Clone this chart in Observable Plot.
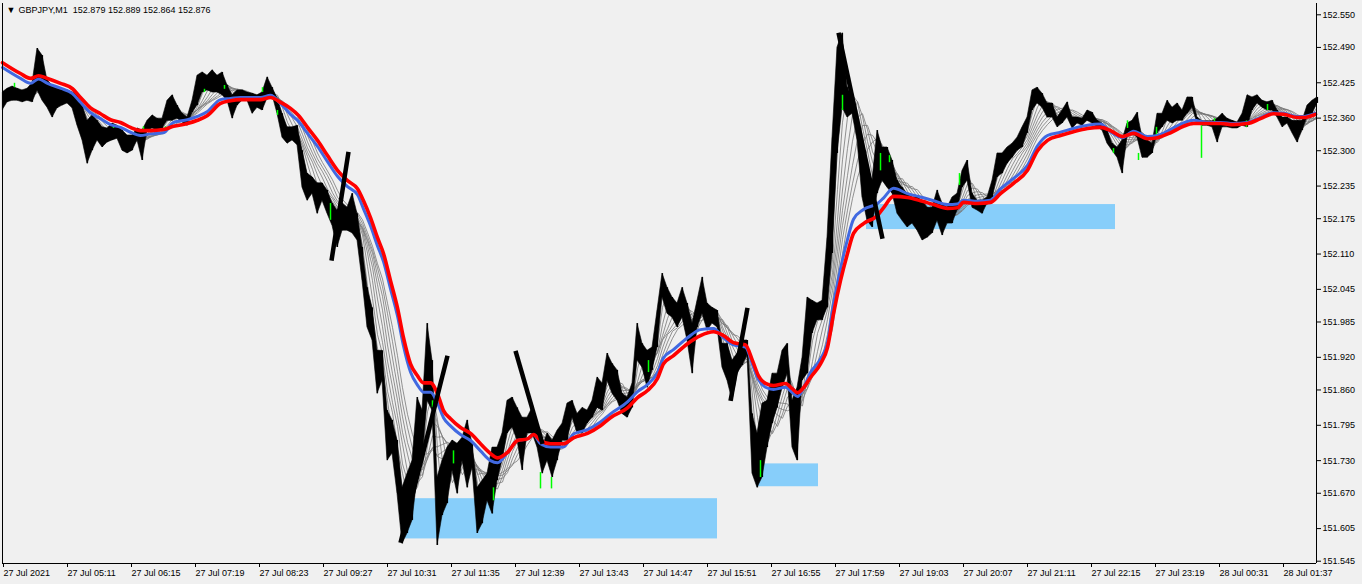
<!DOCTYPE html>
<html><head><meta charset="utf-8">
<script src="https://cdn.jsdelivr.net/npm/d3@7"></script>
<script src="https://cdn.jsdelivr.net/npm/@observablehq/plot@0.6"></script>
<style>
html,body{margin:0;padding:0;background:#f0f0f0;overflow:hidden;}
#chart{width:1362px;height:584px;}
</style></head><body><div id="chart"></div>
<script>
// ---- axis ticks ----
const xTickBars = [1,65,129,193,257,321,385,449,513,577,641,705,769,833,897,961,1025,1089,1153,1217,1281];
const xTickLabels = ["27 Jul 2021","27 Jul 05:11","27 Jul 06:15","27 Jul 07:19","27 Jul 08:23","27 Jul 09:27","27 Jul 10:31","27 Jul 11:35","27 Jul 12:39","27 Jul 13:43","27 Jul 14:47","27 Jul 15:51","27 Jul 16:55","27 Jul 17:59","27 Jul 19:03","27 Jul 20:07","27 Jul 21:11","27 Jul 22:15","27 Jul 23:19","28 Jul 00:31","28 Jul 01:37"];
const yTicks = [152.550,152.490,152.425,152.360,152.300,152.235,152.175,152.110,152.045,151.985,151.920,151.860,151.795,151.730,151.670,151.605,151.545];
const titleText = "GBPJPY,M1\u00a0 152.879 152.889 152.864 152.876";

// ---- price (sampled every 5 one-minute bars) ----
const priceHigh = [
152.407,152.414,152.418,152.414,152.411,152.414,152.424,152.488,152.475,152.429,
152.420,152.414,152.411,152.411,152.407,152.402,152.383,152.355,152.365,152.355,
152.343,152.341,152.350,152.346,152.337,152.328,152.328,152.341,152.337,152.355,
152.365,152.359,152.359,152.392,152.402,152.383,152.368,152.361,152.392,152.438,
152.444,152.438,152.448,152.438,152.444,152.420,152.402,152.411,152.411,152.407,
152.405,152.402,152.407,152.435,152.416,152.396,152.368,152.343,152.343,152.346,
152.300,152.258,152.251,152.240,152.240,152.227,152.203,152.190,152.203,152.195,
152.221,152.184,152.122,152.048,152.011,151.932,151.932,151.822,151.804,151.767,
151.680,151.706,151.730,151.846,151.822,151.982,151.914,151.699,151.730,151.754,
151.767,151.761,151.772,151.804,151.761,151.680,151.693,151.706,151.754,151.754,
151.780,151.840,151.846,151.827,151.809,151.809,151.827,151.798,151.754,151.780,
151.767,151.785,151.798,151.835,151.840,151.816,151.827,151.822,151.840,151.883,
151.872,151.927,151.908,151.896,151.853,151.846,151.872,151.982,151.945,151.932,
151.938,152.006,152.074,152.048,152.030,152.019,152.048,152.019,151.982,152.024,
152.067,152.019,152.011,152.006,151.945,151.945,151.914,151.927,151.951,151.951,
151.816,151.780,151.835,151.840,151.890,151.890,151.932,151.945,151.840,151.864,
151.919,152.030,152.024,152.019,152.024,152.140,152.324,152.490,152.516,152.416,
152.398,152.361,152.300,152.263,152.245,152.337,152.306,152.306,152.282,152.245,
152.232,152.221,152.214,152.214,152.208,152.195,152.195,152.227,152.203,152.195,
152.214,152.221,152.263,152.282,152.221,152.208,152.208,152.214,152.245,152.295,
152.295,152.306,152.313,152.324,152.343,152.361,152.411,152.416,152.405,152.387,
152.387,152.361,152.374,152.389,152.361,152.361,152.359,152.374,152.370,152.355,
152.350,152.337,152.313,152.306,152.319,152.350,152.355,152.370,152.324,152.319,
152.313,152.368,152.368,152.392,152.379,152.387,152.374,152.398,152.398,152.361,
152.354,152.354,152.354,152.359,152.368,152.359,152.355,152.352,152.368,152.402,
152.398,152.402,152.392,152.389,152.392,152.374,152.361,152.361,152.355,152.355,
152.355,152.383,152.392,152.398];
const priceLow = [
152.374,152.389,152.392,152.392,152.389,152.392,152.389,152.411,152.392,152.379,
152.361,152.378,152.383,152.387,152.378,152.346,152.319,152.276,152.300,152.319,
152.306,152.315,152.319,152.322,152.300,152.295,152.300,152.319,152.282,152.337,
152.341,152.337,152.341,152.355,152.355,152.359,152.352,152.346,152.370,152.383,
152.407,152.411,152.407,152.407,152.402,152.392,152.359,152.383,152.392,152.392,
152.368,152.379,152.374,152.396,152.402,152.368,152.324,152.313,152.319,152.310,
152.232,152.208,152.221,152.184,152.208,152.184,152.162,152.122,152.153,152.153,
152.148,152.135,152.061,151.975,151.951,151.853,151.877,151.730,151.743,151.669,
151.577,151.596,151.620,151.699,151.730,151.840,151.822,151.574,151.629,151.651,
151.712,151.669,151.730,151.680,151.717,151.596,151.614,151.656,151.632,151.693,
151.730,151.780,151.791,151.767,151.712,151.780,151.780,151.754,151.706,151.730,
151.699,151.730,151.767,151.767,151.809,151.780,151.780,151.798,151.809,151.827,
151.822,151.877,151.853,151.840,151.816,151.809,151.827,151.914,151.901,151.864,
151.896,151.938,152.030,152.000,151.993,151.975,151.993,151.951,151.890,151.975,
152.000,151.969,151.982,151.975,151.901,151.877,151.840,151.890,151.905,151.923,
151.706,151.680,151.699,151.754,151.798,151.827,151.864,151.890,151.754,151.730,
151.877,151.890,151.964,151.988,151.988,152.011,152.111,152.295,152.379,152.361,
152.368,152.319,152.214,152.171,152.159,152.221,152.245,152.232,152.221,152.184,
152.171,152.159,152.166,152.153,152.135,152.140,152.148,152.171,152.144,152.166,
152.166,152.190,152.232,152.245,152.195,152.190,152.184,152.203,152.214,152.251,
152.258,152.276,152.287,152.300,152.306,152.332,152.374,152.387,152.379,152.361,
152.361,152.343,152.350,152.361,152.341,152.350,152.346,152.355,152.350,152.343,
152.337,152.313,152.300,152.287,152.258,152.324,152.332,152.324,152.287,152.287,
152.295,152.332,152.343,152.355,152.350,152.355,152.355,152.368,152.379,152.350,
152.346,152.346,152.343,152.315,152.343,152.343,152.341,152.341,152.346,152.343,
152.374,152.387,152.379,152.374,152.374,152.361,152.343,152.350,152.332,152.315,
152.337,152.361,152.368,152.387];
const priceStep = 5; // minutes between samples

// ---- moving averages (red slow, blue faster) ----
const maTime = [0,18,28,36,45,58,70,78,88,98,108,118,128,138,148,161,171,185,195,205,218,228,238,258,268,278,288,296,305,315,325,335,345,355,361,368,375,381,388,395,401,408,415,421,428,435,441,448,458,468,478,488,495,505,515,525,531,538,548,561,571,585,598,608,625,635,645,655,661,671,685,698,711,721,731,743,750,756,763,771,783,790,795,801,808,818,825,831,838,845,851,861,875,881,891,905,918,931,945,955,961,975,988,998,1011,1025,1035,1045,1058,1071,1085,1098,1108,1120,1131,1145,1155,1168,1181,1191,1205,1218,1231,1245,1258,1271,1281,1295,1301,1313];
const redMA = [152.462,152.442,152.433,152.438,152.433,152.424,152.414,152.398,152.379,152.368,152.357,152.352,152.343,152.337,152.337,152.339,152.345,152.350,152.356,152.365,152.387,152.392,152.394,152.394,152.398,152.389,152.378,152.365,152.343,152.319,152.291,152.264,152.245,152.230,152.208,152.177,152.140,152.111,152.061,152.011,151.956,151.908,151.886,151.873,151.873,151.853,151.822,151.807,151.791,151.780,151.761,151.743,151.735,151.745,151.767,151.770,151.778,151.767,151.761,151.761,151.772,151.780,151.794,151.809,151.827,151.846,151.859,151.881,151.908,151.923,151.945,151.960,151.967,151.960,151.947,151.943,151.914,151.886,151.872,151.868,151.872,151.862,151.855,151.864,151.883,151.908,151.938,152.000,152.061,152.111,152.148,152.166,152.181,152.195,152.216,152.214,152.208,152.201,152.194,152.195,152.205,152.203,152.205,152.221,152.240,152.264,152.300,152.319,152.328,152.335,152.341,152.343,152.337,152.326,152.332,152.322,152.324,152.333,152.345,152.350,152.350,152.350,152.348,152.350,152.359,152.368,152.367,152.361,152.361,152.367];
const blueMA = [152.453,152.433,152.424,152.432,152.424,152.415,152.405,152.389,152.370,152.359,152.348,152.343,152.334,152.328,152.331,152.333,152.352,152.357,152.363,152.372,152.394,152.396,152.398,152.398,152.402,152.387,152.367,152.354,152.332,152.308,152.280,152.253,152.234,152.219,152.193,152.162,152.125,152.096,152.046,151.996,151.941,151.893,151.869,151.856,151.856,151.836,151.809,151.794,151.778,151.767,151.748,151.730,151.726,151.745,151.767,151.770,151.778,151.761,151.755,151.755,151.779,151.787,151.801,151.816,151.838,151.857,151.870,151.892,151.919,151.934,151.956,151.971,151.973,151.956,151.943,151.939,151.907,151.879,151.865,151.861,151.865,151.855,151.848,151.864,151.892,151.917,151.947,152.018,152.083,152.137,152.174,152.192,152.203,152.213,152.231,152.221,152.215,152.208,152.201,152.202,152.209,152.207,152.209,152.230,152.249,152.273,152.309,152.328,152.334,152.341,152.347,152.349,152.335,152.324,152.336,152.326,152.328,152.339,152.351,152.356,152.352,152.352,152.350,152.352,152.361,152.370,152.369,152.363,152.363,152.369];
const fanWindows = [2,3,4,5,6,7,8,9]; // grey ribbon: trailing means of the price samples

// ---- hand-drawn trend lines ----
const zigStartTime = [329,398,513,728,836];
const zigStartPrice = [152.098,151.579,151.932,151.840,152.517];
const zigEndTime = [346,445,540,745,880];
const zigEndPrice = [152.298,151.923,151.761,152.011,152.138];

// ---- zones ----
const zoneStart = [399,754,864];
const zoneEnd = [715,816,1113];
const zoneTop = [151.660,151.724,152.201];
const zoneBottom = [151.586,151.682,152.155];

// ---- green bars ----
const greenTime = [12,111,141,163,202,222,260,275,328,430,451,491,538,549,646,758,840,878,887,957,1111,1125,1136,1154,1199,1212,1244,1265];
const greenHigh = [152.424,152.346,152.344,152.344,152.413,152.420,152.416,152.374,152.203,151.840,151.748,151.680,151.708,151.699,151.914,151.730,152.402,152.295,152.291,152.258,152.304,152.355,152.295,152.343,152.346,152.359,152.355,152.385];
const greenLow = [152.416,152.341,152.337,152.341,152.407,152.413,152.407,152.365,152.172,151.827,151.724,151.656,151.678,151.678,151.892,151.699,152.374,152.263,152.278,152.236,152.295,152.341,152.282,152.328,152.286,152.350,152.343,152.374];

// ---- tables ----
const price = priceHigh.map((h, i) => ({t: i * priceStep, high: h, low: priceLow[i], mid: (h + priceLow[i]) / 2}));
const ma = maTime.map((t, i) => ({t, red: redMA[i], blue: blueMA[i]}));
const zig = zigStartTime.map((t, i) => ({t1: t, p1: zigStartPrice[i], t2: zigEndTime[i], p2: zigEndPrice[i]}));
const zones = zoneStart.map((s, i) => ({s, e: zoneEnd[i], top: zoneTop[i], bot: zoneBottom[i]}));
const greens = greenTime.map((t, i) => ({t, hi: greenHigh[i], lo: greenLow[i]}));
const labelOf = new Map(xTickBars.map((b, i) => [b, xTickLabels[i]]));

const xMin = 0, xMax = 1314, yMin = 151.5408, yMax = 152.5708;

const chart = Plot.plot({
  width: 1362, height: 584,
  marginLeft: 2, marginRight: 46, marginTop: 3, marginBottom: 21,
  x: {domain: [xMin, xMax]},
  y: {domain: [yMin, yMax]},
  style: {background: "#f0f0f0", fontFamily: "'Liberation Sans', Arial, sans-serif", fontSize: "9px", color: "black", overflow: "visible"},
  marks: [
    Plot.rect(zones, {x1: "s", x2: "e", y1: "bot", y2: "top", fill: "#87cefa"}),
    ...fanWindows.map(k => Plot.lineY(price, Plot.windowY({k, anchor: "end", reduce: "mean"}, {x: "t", y: "mid", stroke: "#777777", strokeWidth: 0.8, clip: true}))),
    Plot.areaY(price, {x: "t", y1: "low", y2: "high", fill: "black", stroke: "black", strokeWidth: 0.6, clip: true}),
    Plot.ruleX(price, {x: "t", y1: "low", y2: "high", stroke: "black", strokeWidth: 1.2}),
    Plot.ruleX(greens, {x: "t", y1: "lo", y2: "hi", stroke: "#00ff00", strokeWidth: 1.5}),
    Plot.line(ma, {x: "t", y: "blue", stroke: "#4169e1", strokeWidth: 3, curve: "monotone-x"}),
    Plot.line(ma, {x: "t", y: "red", stroke: "#ff0000", strokeWidth: 3.6, curve: "monotone-x"}),
    Plot.link(zig, {x1: "t1", y1: "p1", x2: "t2", y2: "p2", stroke: "black", strokeWidth: 4.5}),
    Plot.ruleX([xMin, xMax], {stroke: "black", strokeWidth: 1}),
    Plot.ruleY([yMin], {stroke: "black", strokeWidth: 1}),
    Plot.axisY(yTicks, {anchor: "right", tickSize: 4, tickPadding: 2, tickFormat: d => d.toFixed(3), label: null, fontSize: 9}),
    Plot.axisX(xTickBars, {anchor: "bottom", tickSize: 4, tickPadding: 2, tickFormat: d => labelOf.get(d), textAnchor: "start", dx: 0, label: null, fontSize: 9}),
    Plot.text(["\u25BC"], {frameAnchor: "top-left", dx: 4, dy: 7, fontSize: 9, textAnchor: "start", lineAnchor: "middle", fill: "black"}),
    Plot.text([titleText], {frameAnchor: "top-left", dx: 16, dy: 7, fontSize: 9, textAnchor: "start", lineAnchor: "middle", fill: "black"})
  ]
});
document.getElementById("chart").appendChild(chart);
</script>
</body></html>
